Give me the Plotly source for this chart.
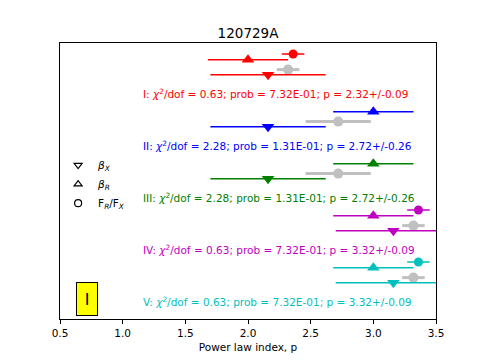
import plotly.graph_objects as go

# groups I..V, one row each (text line sits at y = 5..1)
labels = ["I", "II", "III", "IV", "V"]
colors = ["#ff0000", "#0000ff", "#008000", "#bf00bf", "#00bfbf"]
rows = [5, 4, 3, 2, 1]

beta_x = [2.16, 2.16, 2.16, 3.16, 3.16]
beta_x_err = [0.46, 0.46, 0.46, 0.46, 0.46]
beta_r = [2.00, 3.00, 3.00, 3.00, 3.00]
beta_r_err = [0.32, 0.32, 0.32, 0.32, 0.32]
flux_ratio = [2.36, None, None, 3.36, 3.36]
flux_ratio_err = [0.09, None, None, 0.09, 0.09]
p_fit = [2.32, 2.72, 2.72, 3.32, 3.32]
p_fit_err = [0.09, 0.26, 0.26, 0.09, 0.09]
chi2_dof = [0.63, 2.28, 2.28, 0.63, 0.63]
prob = ["7.32E-01", "1.31E-01", "1.31E-01", "7.32E-01", "7.32E-01"]

GRAY = "#c0c0c0"
FONT = "DejaVu Sans"

fig = go.Figure()


def errpt(x, err, y, color, symbol, size, thick):
    fig.add_trace(go.Scatter(
        x=[x], y=[y], mode="markers", showlegend=False, hoverinfo="skip",
        marker=dict(symbol=symbol, size=size, color=color, line=dict(width=0)),
        error_x=dict(type="data", array=[err], color=color, thickness=thick, width=0),
    ))


for i, lab in enumerate(labels):
    y0 = rows[i]
    c = colors[i]
    if flux_ratio[i] is not None:
        errpt(flux_ratio[i], flux_ratio_err[i], y0 + 0.71, c, "circle", 9, 1.5)
    errpt(beta_r[i], beta_r_err[i], y0 + 0.60, c, "triangle-up", 11, 1.5)
    errpt(p_fit[i], p_fit_err[i], y0 + 0.41, GRAY, "circle", 10, 3)
    errpt(beta_x[i], beta_x_err[i], y0 + 0.31, c, "triangle-down", 11, 1.5)
    # stats line for the group, a touch below the row centre
    fig.add_annotation(
        x=1.15, y=y0 - 0.05, xref="x", yref="y", xanchor="left", yanchor="middle",
        showarrow=False, font=dict(family=FONT, size=10.5, color=c),
        text=f"{lab}: <i>χ</i><sup>2</sup>/dof = {chi2_dof[i]:.2f}; prob = {prob[i]}; "
             f"p = {p_fit[i]:.2f}+/-{p_fit_err[i]:.2f}",
    )

# legend entries (open black markers)
for sym, name in [("triangle-down-open", "<i>β</i><sub><i>X</i></sub>"),
                  ("triangle-up-open", "<i>β</i><sub><i>R</i></sub>"),
                  ("circle-open", "F<sub><i>R</i></sub>/F<sub><i>X</i></sub>")]:
    fig.add_trace(go.Scatter(
        x=[None], y=[None], mode="markers", name=name,
        marker=dict(symbol=sym, size=7, color="black", line=dict(width=1.2)),
    ))

# yellow id box
fig.add_annotation(
    x=0.716, y=1.0, xref="x", yref="y", showarrow=False, text="I",
    font=dict(family=FONT, size=16, color="black"),
    bgcolor="#ffff00", bordercolor="black", borderwidth=1, borderpad=1,
    width=18, height=30,
)

fig.update_layout(
    width=485, height=364,
    margin=dict(l=60, r=49, t=43, b=41),
    paper_bgcolor="white", plot_bgcolor="white",
    font=dict(family=FONT, size=10.5, color="black"),
    title=dict(text="120729A", x=0.5, xref="paper", y=1 - 33 / 364, yanchor="middle",
               font=dict(family=FONT, size=13.5, color="black")),
    legend=dict(x=-0.005, y=0.61, xanchor="left", yanchor="top",
                bgcolor="rgba(0,0,0,0)", font=dict(family=FONT, size=10.5),
                tracegroupgap=0),
    showlegend=True,
)
fig.update_xaxes(
    range=[0.5, 3.5], tickvals=[0.5, 1.0, 1.5, 2.0, 2.5, 3.0, 3.5],
    ticktext=["0.5", "1.0", "1.5", "2.0", "2.5", "3.0", "3.5"],
    ticks="outside", ticklen=4, tickcolor="black", showgrid=False, zeroline=False,
    showline=True, linecolor="black", linewidth=1, mirror=True,
    title=dict(text="Power law index, p", font=dict(family=FONT, size=10.5), standoff=6),
)
fig.update_yaxes(
    range=[0.614, 5.922], showticklabels=False, ticks="", showgrid=False, zeroline=False,
    showline=True, linecolor="black", linewidth=1, mirror=True,
)

fig.write_html("out.html", config={"displayModeBar": False},
               post_script="document.body.style.margin='0';")
